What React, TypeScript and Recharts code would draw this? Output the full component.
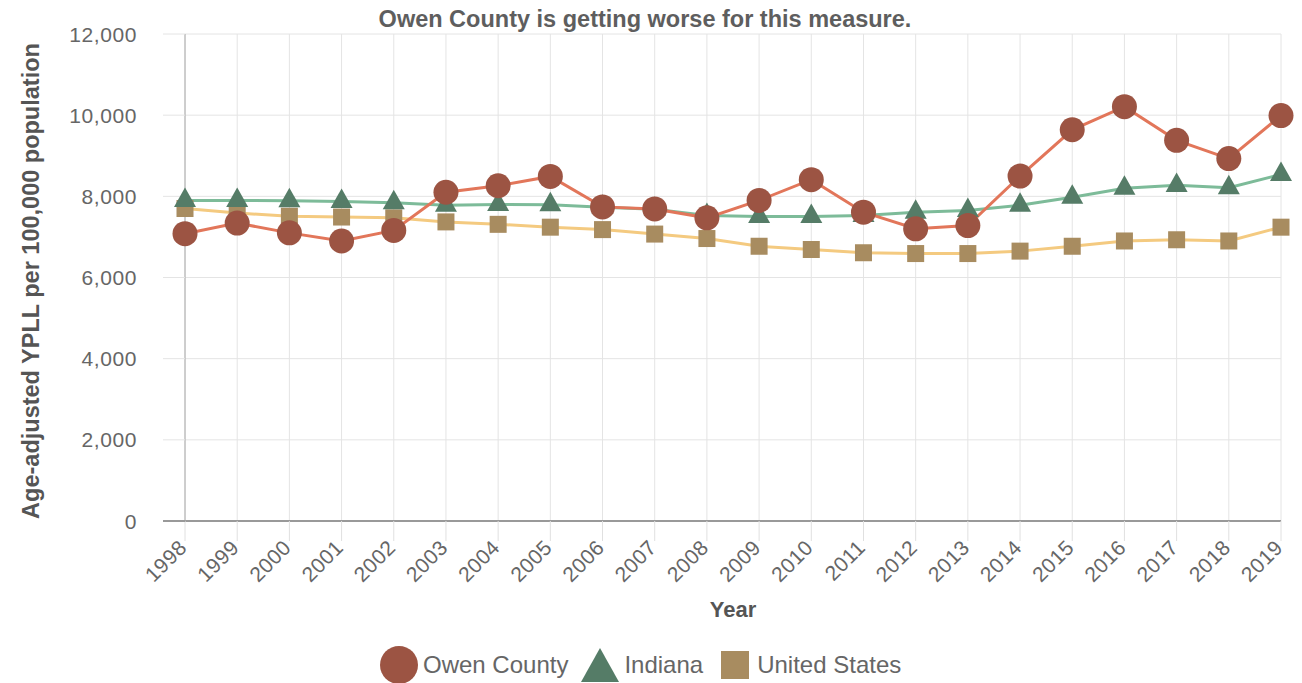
import React from 'react';
import { LineChart, Line, XAxis, YAxis, CartesianGrid } from 'recharts';

const years = ['1998','1999','2000','2001','2002','2003','2004','2005','2006','2007','2008','2009','2010','2011','2012','2013','2014','2015','2016','2017','2018','2019'];
const owenCounty = [7080, 7340, 7100, 6900, 7160, 8100, 8260, 8490, 7740, 7690, 7470, 7900, 8410, 7610, 7200, 7280, 8500, 9640, 10210, 9380, 8930, 9990];
const indiana = [7900, 7900, 7890, 7870, 7840, 7780, 7800, 7790, 7730, 7680, 7530, 7505, 7505, 7530, 7610, 7650, 7780, 7980, 8200, 8270, 8210, 8540];
const unitedStates = [7700, 7590, 7510, 7490, 7470, 7370, 7310, 7240, 7180, 7070, 6960, 6770, 6690, 6610, 6590, 6590, 6650, 6770, 6900, 6930, 6900, 7240];
const yTicks = [0, 2000, 4000, 6000, 8000, 10000, 12000];

const title = 'Owen County is getting worse for this measure.';
const yLabel = 'Age-adjusted YPLL per 100,000 population';
const xLabel = 'Year';

const data = years.map((y, i) => ({ year: y, owen: owenCounty[i], indiana: indiana[i], us: unitedStates[i] }));

const FONT = '"Liberation Sans", Arial, sans-serif';
const TEXT = '#666666';

const OWEN_MARK = '#9c5443';
const OWEN_LINE = '#e2765a';
const IN_MARK = '#557c67';
const IN_LINE = '#7dbb99';
const US_MARK = '#a88c60';
const US_LINE = '#f4ca80';

const circleDot = (p: any) => (
  <circle key={`o${p.index}`} cx={p.cx} cy={p.cy} r={12.5} fill={OWEN_MARK} />
);
const triDot = (p: any) => (
  <path key={`t${p.index}`} d={`M${p.cx},${p.cy - 13} L${p.cx + 11},${p.cy + 6.5} L${p.cx - 11},${p.cy + 6.5} Z`} fill={IN_MARK} />
);
const sqDot = (p: any) => (
  <rect key={`s${p.index}`} x={p.cx - 8.5} y={p.cy - 8.5} width={17} height={17} fill={US_MARK} />
);

const YTick = (p: any) => {
  const v = p.payload.value;
  return (
    <g>
      {v === 0 ? <line x1={p.x + 26} x2={p.x + 48} y1={p.y} y2={p.y} stroke="#999" strokeWidth={2} /> : null}
      <text x={p.x} y={p.y} dy={7.5} textAnchor="end" fill={TEXT} fontSize={21} letterSpacing={0.6} fontFamily={FONT}>
        {v.toLocaleString('en-US')}
      </text>
    </g>
  );
};

const XTick = (p: any) => (
  <text
    x={p.x + 3}
    y={p.y + 6}
    textAnchor="end"
    transform={`rotate(-45, ${p.x + 3}, ${p.y + 6})`}
    fill={TEXT}
    fontSize={21}
    letterSpacing={0.4}
    fontFamily={FONT}
  >
    {p.payload.value}
  </text>
);

const legendItems = [
  { name: 'Owen County', color: OWEN_MARK, shape: 'circle' },
  { name: 'Indiana', color: IN_MARK, shape: 'triangle' },
  { name: 'United States', color: US_MARK, shape: 'square' },
];

const LegendIcon = ({ shape, color }: { shape: string; color: string }) => {
  if (shape === 'circle') {
    return <svg width={38} height={38} style={{ display: 'block' }}><circle cx={19} cy={19} r={19} fill={color} /></svg>;
  }
  if (shape === 'triangle') {
    return <svg width={38} height={34} style={{ display: 'block' }}><path d="M19,0 L38,34 L0,34 Z" fill={color} /></svg>;
  }
  return <svg width={28} height={28} style={{ display: 'block' }}><rect x={0} y={0} width={28} height={28} fill={color} /></svg>;
};

const legendGaps = [13, 18, 0];
const iconGaps = [5, 5, 8];

export default function App() {
  return (
    <div style={{ position: 'absolute', left: 0, top: 0, width: 1302, height: 683, background: '#fff', overflow: 'hidden' }}>
      <div
        style={{
          position: 'absolute', left: 0, top: 8, width: 1290, textAlign: 'center', lineHeight: 1,
          fontFamily: FONT, fontWeight: 'bold', fontSize: 23.5, color: '#5e5e5e',
        }}
      >
        {title}
      </div>
      <LineChart width={1302} height={683} data={data} margin={{ top: 34, right: 21, bottom: 72, left: 0 }}>
        <CartesianGrid stroke="#e4e4e4" strokeWidth={1} />
        <XAxis
          dataKey="year"
          scale="point"
          padding={{ left: 0, right: 0 }}
          height={90}
          axisLine={{ stroke: '#999', strokeWidth: 2 }}
          tickLine={{ stroke: '#e0e0e0' }}
          tickSize={20}
          tick={<XTick />}
          interval={0}
          label={{
            content: (lp: any) => {
              const vb = lp.viewBox;
              return (
                <text x={vb.x + vb.width / 2} y={vb.y + 96} textAnchor="middle" fill="#555" fontSize={22} fontWeight="bold" fontFamily={FONT}>
                  {xLabel}
                </text>
              );
            },
          }}
        />
        <YAxis
          domain={[0, 12000]}
          ticks={yTicks}
          width={185}
          axisLine={{ stroke: '#aaa', strokeWidth: 1 }}
          tickLine={{ stroke: '#e4e4e4' }}
          tickSize={22}
          tickMargin={26}
          tick={<YTick />}
          interval={0}
          label={{
            content: (lp: any) => {
              const vb = lp.viewBox;
              const cy = vb.y + vb.height / 2 + 3.5;
              return (
                <text x={39} y={cy} textAnchor="middle" transform={`rotate(-90, 39, ${cy})`} fill="#555" fontSize={23.5} fontWeight="bold" fontFamily={FONT}>
                  {yLabel}
                </text>
              );
            },
          }}
        />
        <Line dataKey="us" stroke={US_LINE} strokeWidth={3} dot={sqDot} activeDot={false} isAnimationActive={false} />
        <Line dataKey="indiana" stroke={IN_LINE} strokeWidth={3} dot={triDot} activeDot={false} isAnimationActive={false} />
        <Line dataKey="owen" stroke={OWEN_LINE} strokeWidth={3} dot={circleDot} activeDot={false} isAnimationActive={false} />
      </LineChart>
      <div
        style={{
          position: 'absolute', left: 380, top: 646, height: 38, display: 'flex',
          alignItems: 'center', fontFamily: FONT, fontSize: 24, color: TEXT, whiteSpace: 'nowrap',
        }}
      >
        {legendItems.map((it, i) => (
          <div key={it.name} style={{ display: 'flex', alignItems: 'center', marginRight: legendGaps[i] }}>
            <LegendIcon shape={it.shape} color={it.color} />
            <span style={{ marginLeft: iconGaps[i] }}>{it.name}</span>
          </div>
        ))}
      </div>
    </div>
  );
}
